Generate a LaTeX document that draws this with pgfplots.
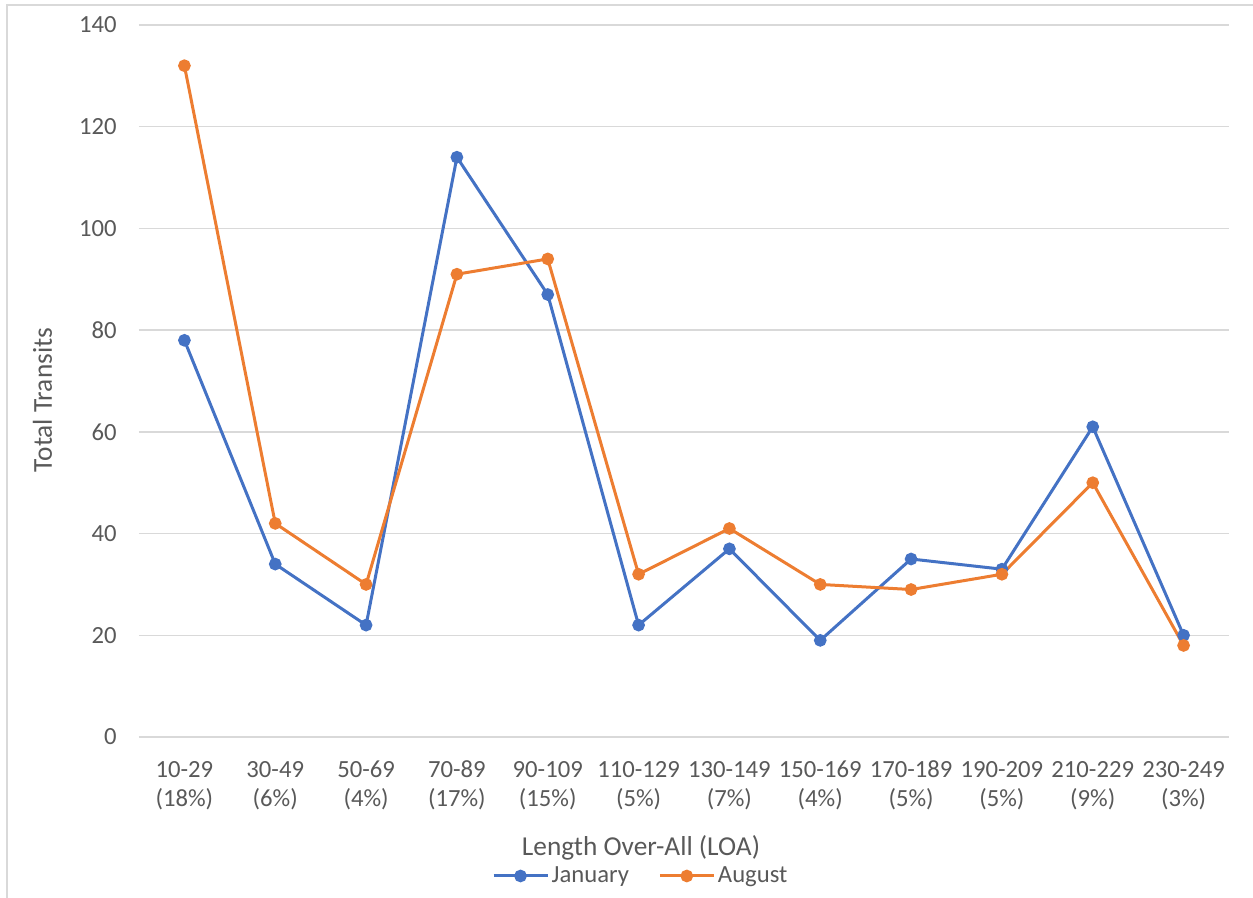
\documentclass[border=0pt]{standalone}
\usepackage{pgfplots}
\pgfplotsset{compat=1.18}
\usepackage{fontspec}
\setmainfont{Carlito}
\definecolor{jan}{HTML}{4472C4}
\definecolor{aug}{HTML}{ED7D31}
\definecolor{gridc}{HTML}{D9D9D9}
\definecolor{txt}{HTML}{595959}
\begin{document}
\begin{tikzpicture}
\begin{axis}[
  at={(0,0)}, anchor=south west,
  scale only axis, width=817.5pt, height=534pt,
  xmin=-0.5, xmax=11.5, ymin=0, ymax=140,
  ytick={0,20,...,140},
  xtick={0,...,11},
  xticklabels={{10-29\\(18\%)},{30-49\\(6\%)},{50-69\\(4\%)},{70-89\\(17\%)},{90-109\\(15\%)},{110-129\\(5\%)},{130-149\\(7\%)},{150-169\\(4\%)},{170-189\\(5\%)},{190-209\\(5\%)},{210-229\\(9\%)},{230-249\\(3\%)}},
  /pgf/number format/assume math mode=true,
  axis line style={draw=none},
  major tick length=0pt,
  ymajorgrids, major grid style={gridc, line width=1pt},
  yticklabel style={anchor=east, inner sep=0pt, xshift=-16.5pt, text=txt, font=\fontsize{18.5}{22}\selectfont},
  xticklabel style={anchor=north, inner sep=0pt, yshift=-17.8pt, align=center, text=txt, font=\fontsize{18.5}{21.75}\selectfont},
  legend columns=2,
  legend style={at={(axis description cs:0.4606,-0.1952)}, anchor=center, draw=none, fill=none,
    font=\fontsize{18.5}{22}\selectfont, text=txt,
    /tikz/every even column/.append style={column sep=20pt}},
  legend image code/.code={\draw[mark repeat=2,mark phase=2,#1] plot coordinates {(0pt,0pt) (20.25pt,0pt) (40.5pt,0pt)};},
  every axis plot/.append style={line width=2.25pt, mark=*, mark size=3.6pt},
  clip=false,
]
\addplot[jan, mark options={fill=jan, draw=jan}] coordinates {(0,78) (1,34) (2,22) (3,114) (4,87) (5,22) (6,37) (7,19) (8,35) (9,33) (10,61) (11,20)};
\addlegendentry{January}
\addplot[aug, mark options={fill=aug, draw=aug}] coordinates {(0,132) (1,42) (2,30) (3,91) (4,94) (5,32) (6,41) (7,30) (8,29) (9,32) (10,50) (11,18)};
\addlegendentry{August}
\end{axis}
\node[anchor=base, text=txt, font=\fontsize{20.5}{24}\selectfont, inner sep=0pt] at (376.5pt,-88.5pt) {Length Over-All (LOA)};
\node[anchor=base, rotate=90, text=txt, font=\fontsize{20.5}{24}\selectfont, inner sep=0pt] at (-65.25pt,252.75pt) {Total Transits};
\draw[gridc, line width=1.2pt] (-99pt,-200pt) -- (-99pt,549pt) -- (900pt,549pt);
\pgfresetboundingbox
\path[use as bounding box] (-104.25pt,-120pt) rectangle (835.5pt,552.75pt);
\end{tikzpicture}
\end{document}
